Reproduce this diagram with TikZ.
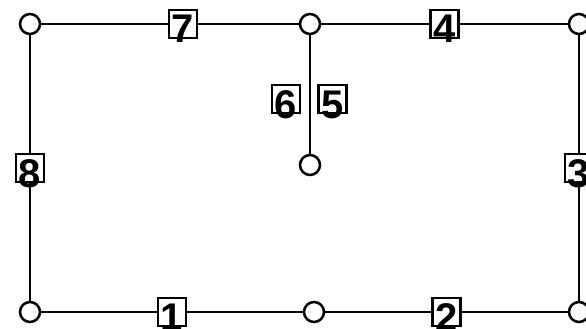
\documentclass[tikz,border=0pt]{standalone}
\usepackage{fontspec}
\usepackage{tikz}
\usetikzlibrary{positioning}
\newfontfamily\labelfont{Liberation Sans}
\tikzstyle{joint}=[circle, draw=black, fill=white, line width=2.5pt,
  minimum size=20pt, inner sep=0pt]
\tikzstyle{tag}=[rectangle, draw=black, fill=white, line width=2.5pt,
  minimum size=28pt, inner sep=0pt,
  font=\labelfont\bfseries\fontsize{40}{40}\selectfont]
\tikzstyle{link}=[draw, line width=2.5pt]
\newcommand{\dig}[1]{\raisebox{-19pt}[0pt][0pt]{#1}}

\begin{document}
\begin{tikzpicture}[x=1pt, y=-1pt]
    \useasboundingbox (0,0) rectangle (586,329);
    % joints
    \node (tl) [joint] at (30,24) {};
    \node (tm) [joint] at (310,24) {};
    \node (tr) [joint] at (579,24) {};
    \node (mid) [joint] at (310,165) {};
    \node (bl) [joint] at (30,312) {};
    \node (bm) [joint] at (314,312) {};
    \node (br) [joint] at (579,312) {};
    % links
    \draw[link] (bl) -- node[tag] (t1) {\dig{1}} (bm);
    \draw[link] (bm) -- node[tag] (t2) {\dig{2}} (br);
    \draw[link] (br) -- node[tag] (t3) {\dig{3}} (tr);
    \draw[link] (tr) -- node[tag] (t4) {\dig{4}} (tm);
    \draw[link] (tm) -- node[tag, pos=0.45] (t7) {\dig{7}} (tl);
    \draw[link] (tl) -- node[tag] (t8) {\dig{8}} (bl);
    \draw[link] (tm) -- node[tag, pos=0.54, left=9pt] (t6) {\dig{6}}
                        node[tag, pos=0.54, right=7pt] (t5) {\dig{5}} (mid);
\end{tikzpicture}
\end{document}
